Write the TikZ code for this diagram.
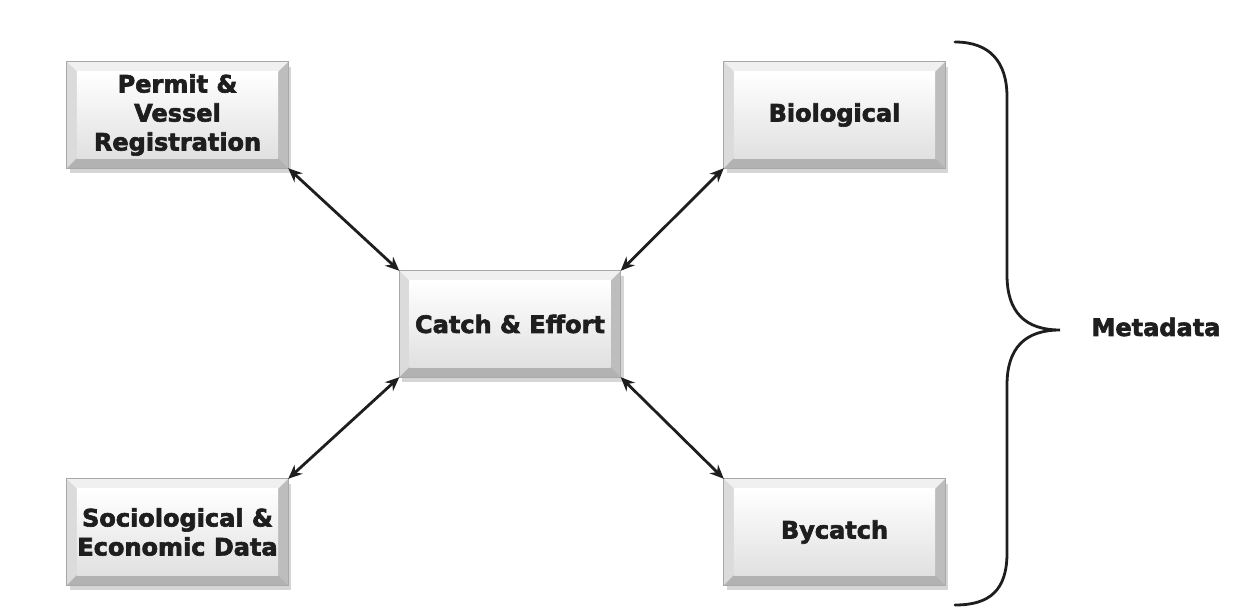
\documentclass[tikz,border=0pt]{standalone}
\usepackage{fontspec}
\newfontfamily\heavy[BoldFeatures={FakeBold=2.6}]{DejaVu Sans}
\usetikzlibrary{calc,arrows.meta,backgrounds}

\definecolor{ink}{HTML}{1E1E1E}
\definecolor{rim}{HTML}{A8A8A8}

\tikzset{
  labelfont/.style={font=\heavy\bfseries\fontsize{24}{29}\selectfont, text=ink},
  databox/.style={labelfont, minimum width=221pt, minimum height=106pt, inner sep=0pt,
    align=center},
  link/.style={draw=ink, line width=2.8pt,
    {Stealth[length=14pt,width=12pt]}-{Stealth[length=14pt,width=12pt]}},
  brace/.style={draw=ink, line width=2.8pt, line cap=round}
}

% Bevelled, softly shaded key behind a named node
\newcommand\bevelbox[1]{%
  \fill[black!30, opacity=.55] ($(#1.north west)+(3,5)$) rectangle ($(#1.south east)+(3,5)$);
  \fill[black!6] (#1.north west) -- (#1.north east) -- ($(#1.north east)+(-10,10)$) -- ($(#1.north west)+(10,10)$) -- cycle;
  \fill[black!14] (#1.north west) -- ($(#1.north west)+(10,10)$) -- ($(#1.south west)+(10,-10)$) -- (#1.south west) -- cycle;
  \fill[black!26] (#1.north east) -- (#1.south east) -- ($(#1.south east)+(-10,-10)$) -- ($(#1.north east)+(-10,10)$) -- cycle;
  \fill[black!30] (#1.south west) -- (#1.south east) -- ($(#1.south east)+(-10,-10)$) -- ($(#1.south west)+(10,-10)$) -- cycle;
  \shade[top color=white, bottom color=black!12] ($(#1.north west)+(10,10)$) rectangle ($(#1.south east)+(-10,-10)$);
  \draw[rim, line width=1pt] (#1.north west) rectangle (#1.south east);
}

\begin{document}
\begin{tikzpicture}[x=1pt, y=-1pt]
  \useasboundingbox (0,0) rectangle (1250,610);

  \node[databox] (permit) at (177.5,115) {Permit \&\\Vessel\\Registration};
  \node[databox] (bio)    at (834.5,115) {Biological};
  \node[databox] (catch)  at (510,324)   {Catch \& Effort};
  \node[databox] (socio)  at (177.5,532) {Sociological \&\\Economic Data};
  \node[databox] (by)     at (834.5,532) {Bycatch};

  \begin{pgfonlayer}{background}
    \foreach \n in {permit,bio,catch,socio,by} {\bevelbox{\n}}
  \end{pgfonlayer}

  \draw[link] (permit.south east) -- (catch.north west);
  \draw[link] (bio.south west)    -- (catch.north east);
  \draw[link] (socio.north east)  -- (catch.south west);
  \draw[link] (by.north west)     -- (catch.south east);

  % curly brace grouping the data streams
  \coordinate (btop) at (955,42);
  \coordinate (btip) at (1060,330);
  \coordinate (bbot) at (955,605);
  \draw[brace] (btop) .. controls (990,42) and (1007,62) .. (1007,97)
    -- (1007,275) .. controls (1007,312) and (1025,330) .. (btip)
    .. controls (1025,330) and (1007,348) .. (1007,385)
    -- (1007,553) .. controls (1007,590) and (990,605) .. (bbot);

  \node[labelfont] (meta) at (1156,327) {Metadata};
\end{tikzpicture}
\end{document}
